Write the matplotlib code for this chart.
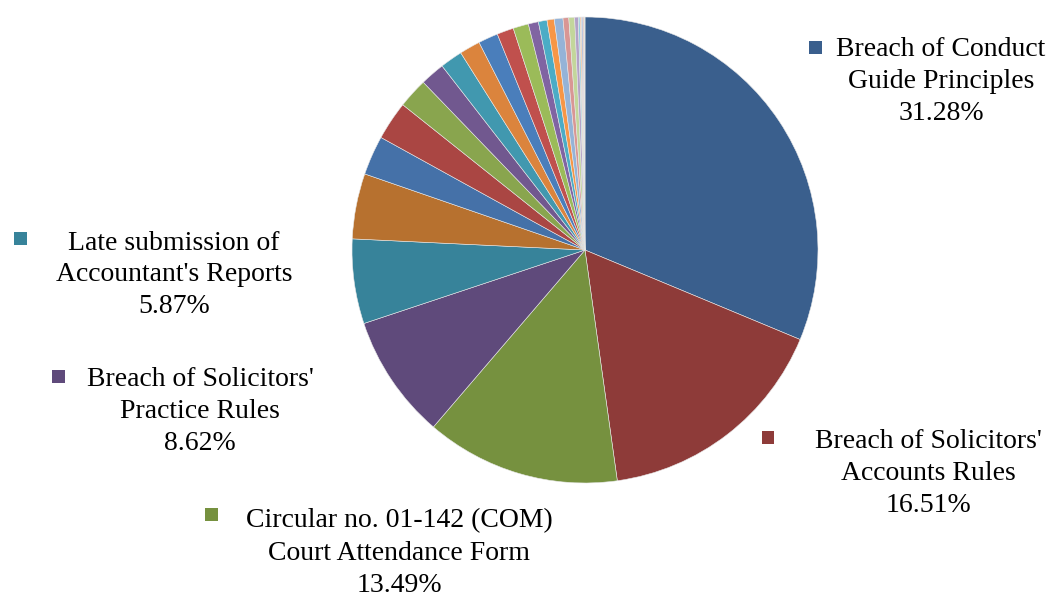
import matplotlib
matplotlib.use("Agg")
import matplotlib.pyplot as plt
from matplotlib.patches import Rectangle

plt.rcParams['font.family'] = ['Liberation Serif', 'DejaVu Serif']

# Named categories (largest slices, labelled)
major_labels = [
    "Breach of Conduct\nGuide Principles",
    "Breach of Solicitors'\nAccounts Rules",
    "Circular no. 01-142 (COM)\nCourt Attendance Form",
    "Breach of Solicitors'\nPractice Rules",
    "Late submission of\nAccountant's Reports",
]
major_values = [31.28, 16.51, 13.49, 8.62, 5.87]

# Remaining unlabelled small slices
minor_values = [4.53, 2.73, 2.69, 2.08, 1.70, 1.56, 1.44, 1.37, 1.16, 1.07,
                0.70, 0.60, 0.50, 0.60, 0.40, 0.40, 0.25, 0.12, 0.10, 0.10,
                0.08, 0.06]

colors = [
    "#3A5F8D", "#8E3B39", "#76913F", "#5F4A7B", "#37839A", "#B7712F",
    "#4571A8", "#AA4643", "#89A54E", "#71588F", "#4198AF", "#DB843D",
    "#4A7EBB", "#C0504D", "#9BBB59", "#8064A2", "#4BACC6", "#F79646",
    "#95B3D7", "#D99694", "#C3D69B", "#B3A2C7", "#93CDDD", "#FAC090",
    "#A5B8D8", "#E6B9B8", "#D7E4BD",
]

values = major_values + minor_values

W, H = 1053, 592
fig = plt.figure(figsize=(W / 100, H / 100), dpi=100)
cx, cy, r = 585, 250, 233
ax = fig.add_axes([(cx - r) / W, (H - cy - r) / H, 2 * r / W, 2 * r / H])
ax.pie(values, colors=colors[:len(values)], startangle=90, counterclock=False,
       wedgeprops=dict(edgecolor="#E8E8E8", linewidth=0.4), radius=1.0)
ax.set_xlim(-1, 1)
ax.set_ylim(-1, 1)
ax.set_aspect("equal")
ax.axis("off")

# label positions in pixels: (text center x, first line y, marker x, marker y)
label_pos = [
    (941, 50, 815, 47),
    (928, 441, 768, 437),
    (399, 521, 211, 514),
    (200, 379, 58, 376),
    (174, 243, 20, 238),
]

fs = 20
line_h = 32
for (lab, val, col, (tx, ty, mx, my)) in zip(major_labels, major_values, colors, label_pos):
    lines = lab.split("\n") + [f"{val:.2f}%"]
    for i, ln in enumerate(lines):
        fig.text(tx / W, 1 - (ty + i * line_h) / H, ln, ha="center", va="center",
                 fontsize=fs, color="black")
    s = 13
    fig.patches.append(Rectangle(((mx - s / 2) / W, 1 - (my + s / 2) / H), s / W, s / H,
                                 transform=fig.transFigure, facecolor=col,
                                 edgecolor="none"))

fig.savefig("out.png", dpi=100)
